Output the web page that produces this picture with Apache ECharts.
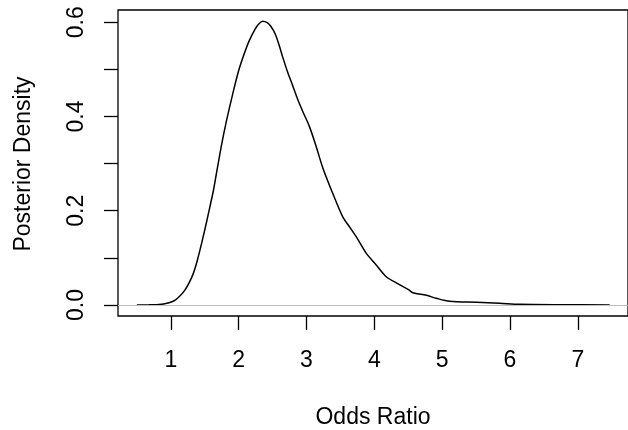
<!DOCTYPE html>
<html>
<head>
<meta charset="utf-8">
<script src="https://cdn.jsdelivr.net/npm/echarts@6/dist/echarts.min.js"></script>
<style>html,body{margin:0;padding:0;background:#fff}#c{width:628px;height:430px}</style>
</head>
<body>
<div id="c"></div>
<script>
// Posterior density of odds ratio
var oddsRatio = [0.5, 0.679, 0.827, 0.975, 1.05, 1.123, 1.2, 1.27, 1.33, 1.39, 1.45, 1.51, 1.57, 1.63, 1.69, 1.75, 1.82, 1.91, 2.0, 2.08, 2.157, 2.245, 2.3, 2.356, 2.422, 2.477, 2.54, 2.6, 2.648, 2.718, 2.796, 2.866, 2.944, 3.043, 3.142, 3.239, 3.387, 3.535, 3.634, 3.733, 3.88, 4.028, 4.176, 4.323, 4.51, 4.569, 4.767, 4.914, 5.111, 5.505, 5.849, 6.145, 6.736, 7.47];
var density   = [0.0, 0.0004, 0.001, 0.0049, 0.009, 0.0176, 0.03, 0.047, 0.066, 0.094, 0.128, 0.165, 0.204, 0.244, 0.293, 0.341, 0.39, 0.446, 0.497, 0.532, 0.561, 0.586, 0.597, 0.602, 0.599, 0.591, 0.575, 0.55, 0.527, 0.496, 0.466, 0.438, 0.411, 0.379, 0.337, 0.292, 0.237, 0.187, 0.166, 0.145, 0.11, 0.085, 0.06, 0.047, 0.032, 0.026, 0.0206, 0.0142, 0.0079, 0.0057, 0.0036, 0.0015, 0.0006, 0.0002];
var xTicks = [1, 2, 3, 4, 5, 6, 7];
var yTicks = [0, 0.1, 0.2, 0.3, 0.4, 0.5, 0.6];
var yLabels = [0, 0.2, 0.4, 0.6];
var xTitle = 'Odds Ratio';
var yTitle = 'Posterior Density';

var FONT = '"Liberation Sans", Arial, Helvetica, sans-serif';
var chart = echarts.init(document.getElementById('c'), null, {renderer: 'canvas'});
var pts = oddsRatio.map(function (x, i) { return [x, density[i]]; });

chart.setOption({
  animation: false,
  backgroundColor: '#fff',
  grid: {left: 118, right: 0, top: 10, bottom: 114, show: true, borderColor: '#000', borderWidth: 1.3, backgroundColor: 'transparent'},
  xAxis: {
    type: 'value', min: 0.222, max: 7.74,
    axisLine: {show: false, onZero: false},
    axisTick: {show: true, length: 14, lineStyle: {color: '#000', width: 1.3}, customValues: xTicks},
    axisLabel: {show: true, color: '#000', fontSize: 23, fontFamily: FONT, margin: 33, customValues: xTicks,
      formatter: function (v) { return String(v); }},
    splitLine: {show: false}
  },
  yAxis: {
    type: 'value', min: -0.0234, max: 0.626,
    axisLine: {show: false, onZero: false},
    axisTick: {show: true, length: 14, lineStyle: {color: '#000', width: 1.3}, customValues: yTicks},
    axisLabel: {show: true, color: '#000', fontSize: 23, fontFamily: FONT, margin: 30, rotate: 90, customValues: yLabels,
      formatter: function (v) { return v.toFixed(1); }},
    splitLine: {show: false}
  },
  graphic: [
    {type: 'text', x: 373, y: 418, style: {text: xTitle, font: '23px ' + FONT, fill: '#000', textAlign: 'center', textVerticalAlign: 'middle'}},
    {type: 'text', x: 24, y: 164, rotation: Math.PI / 2, style: {text: yTitle, font: '23px ' + FONT, fill: '#000', textAlign: 'center', textVerticalAlign: 'middle'}}
  ],
  series: [{
    type: 'line', data: pts, showSymbol: false, smooth: 0.3,
    lineStyle: {color: '#000', width: 1.5},
    markLine: {silent: true, symbol: 'none', label: {show: false}, lineStyle: {color: '#bebebe', width: 1.2, type: 'solid'},
      data: [{yAxis: 0}]},
    z: 3
  }]
});
</script>
</body>
</html>
